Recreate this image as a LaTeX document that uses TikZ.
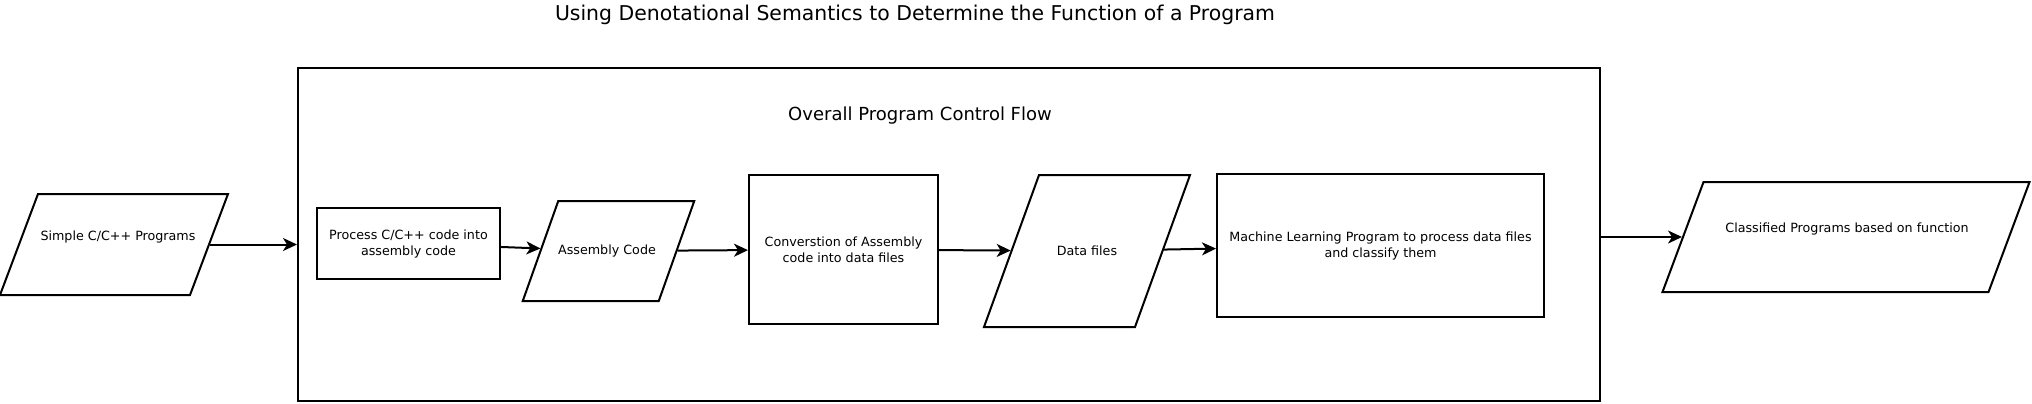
\documentclass[tikz,border=0pt]{standalone}
\usepackage{fontspec}
\setmainfont{DejaVu Sans}
\usepackage{tikz}
\usetikzlibrary{arrows.meta, positioning}

\tikzset{
  boxtext/.style={font=\fontsize{6.35}{8}\selectfont, align=center},
  procbox/.style={draw, line width=1pt, rectangle, inner sep=2pt, boxtext},
  iobox/.style={draw, line width=1pt, rectangle, inner sep=0pt},
  flow/.style={draw, line width=1pt, -{Stealth[length=7pt, width=6.5pt, inset=2pt]}}
}

\begin{document}
\begin{tikzpicture}[x=0.5pt, y=-0.5pt]
  \useasboundingbox (0,0) rectangle (2032,403);

  % --- Title ---
  \node[font=\fontsize{10.2}{12}\selectfont] (title) at (915,15)
    {Using Denotational Semantics to Determine the Function of a Program};

  % --- Outer frame ---
  \node[draw, line width=1pt, minimum width=651pt, minimum height=166.5pt] (frame) at (949,234.5) {};
  \node[font=\fontsize{9}{11}\selectfont] (frametitle) at (920,115.5) {Overall Program Control Flow};

  % --- Input ---
  \node[iobox, xslant=0.376, minimum width=95pt, minimum height=50.5pt] (src) at (114,244.5) {};
  \node[boxtext] (srclbl) at (118,237) {Simple C/C++ Programs};

  % --- Inner steps ---
  \node[procbox, minimum width=91.5pt, minimum height=35.5pt] (compile) at (408.5,243.5)
    {Process C/C++ code into\\assembly code};
  \node[iobox, xslant=0.355, minimum width=68pt, minimum height=50pt] (asm) at (608.5,251) {};
  \node[boxtext] (asmlbl) at (607,251) {Assembly Code};
  \node[procbox, minimum width=94.5pt, minimum height=74.5pt] (convert) at (843.5,249.5)
    {Converstion of Assembly\\code into data files};
  \node[iobox, xslant=0.362, minimum width=75.5pt, minimum height=76pt] (data) at (1087,251) {};
  \node[boxtext] (datalbl) at (1087,250.5) {Data files};
  \node[procbox, minimum width=163.5pt, minimum height=71.5pt] (learn) at (1380.5,245.5)
    {Machine Learning Program to process data files\\and classify them};

  % --- Output ---
  \node[iobox, xslant=0.373, minimum width=163pt, minimum height=55pt] (result) at (1846,237) {};
  \node[boxtext] (resultlbl) at (1847,229) {Classified Programs based on function};

  % --- Connectors ---
  \draw[flow] (src) -- (src -| frame.west);
  \draw[flow] (compile) -- (asm);
  \draw[flow] (asm) -- (convert);
  \draw[flow] (convert) -- (data);
  \draw[flow] (data) -- (learn);
  \draw[flow] (result -| frame.east) -- (result);
\end{tikzpicture}
\end{document}
